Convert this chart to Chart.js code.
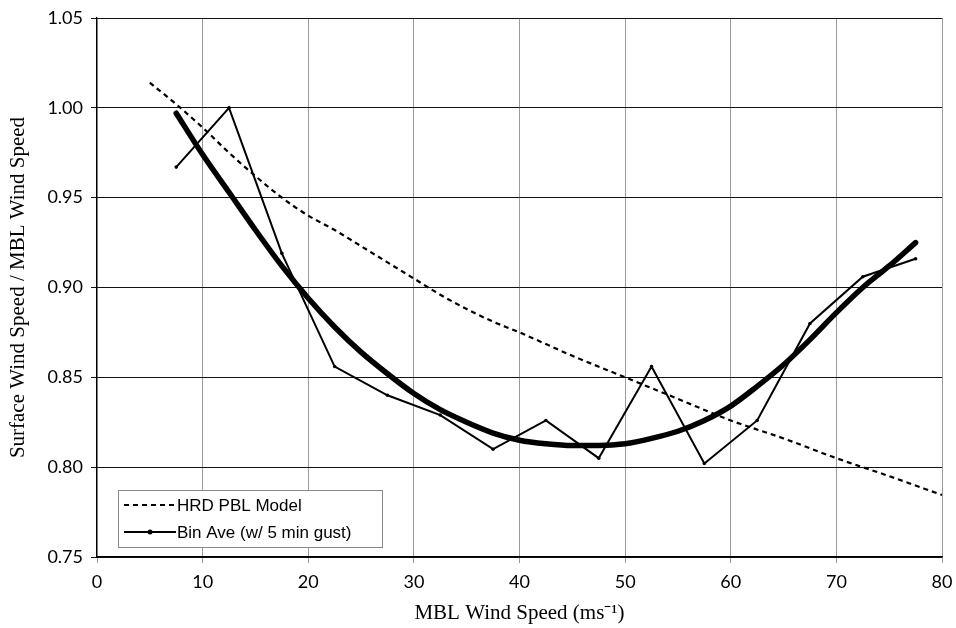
<!DOCTYPE html>
<html>
<head>
<meta charset="utf-8">
<script src="https://cdn.jsdelivr.net/npm/chart.js@4.4.1/dist/chart.umd.min.js"></script>
<style>
  html, body { margin: 0; padding: 0; background: #fff; }
  #wrap { width: 956px; height: 628px; }
</style>
</head>
<body>
<div id="wrap"><canvas id="windChart" width="956" height="628"></canvas></div>
<script>
// Dados
const binX = [7.5, 12.5, 17.5, 22.5, 27.5, 32.5, 37.5, 42.5, 47.5, 52.5, 57.5, 62.5, 67.5, 72.5, 77.5];
const binY = [0.967, 1.000, 0.919, 0.856, 0.840, 0.829, 0.810, 0.826, 0.805, 0.856, 0.802, 0.826, 0.880, 0.906, 0.916];

const fitX = [7.5, 10, 12.5, 15, 17.5, 20, 22.5, 25, 27.5, 30, 32.5, 35, 37.5, 40, 42.5, 45, 47.5, 50, 52.5, 55, 57.5, 60, 62.5, 65, 67.5, 70, 72.5, 75, 77.5];
const fitY = [0.997, 0.974, 0.953, 0.932, 0.912, 0.894, 0.878, 0.864, 0.852, 0.841, 0.832, 0.825, 0.819, 0.815, 0.813, 0.812, 0.812, 0.813, 0.816, 0.820, 0.826, 0.834, 0.845, 0.857, 0.871, 0.886, 0.900, 0.912, 0.925];

const pblX = [5, 7.5, 10, 12.5, 15, 17.5, 20, 22.5, 25, 27.5, 30, 32.5, 35, 37.5, 40, 45, 50, 55, 60, 65, 70, 75, 80];
const pblY = [1.014, 1.002, 0.989, 0.975, 0.962, 0.950, 0.940, 0.932, 0.923, 0.914, 0.905, 0.896, 0.888, 0.881, 0.875, 0.862, 0.850, 0.838, 0.826, 0.816, 0.805, 0.795, 0.7845];

const xTicks = [0, 10, 20, 30, 40, 50, 60, 70, 80];
const yTicks = [0.75, 0.80, 0.85, 0.90, 0.95, 1.00, 1.05];

const toPoints = (xs, ys) => xs.map((x, i) => ({ x: x, y: ys[i] }));

// Legenda desenhada dentro da área do gráfico
const insideLegend = {
    id: 'insideLegend',
    afterDraw(chart) {
        const c = chart.ctx;
        const area = chart.chartArea;
        const left = area.left + 21, top = area.bottom - 67, w = 264, h = 57;
        c.save();
        c.fillStyle = '#fff';
        c.fillRect(left, top, w, h);
        c.strokeStyle = '#888';
        c.lineWidth = 1;
        c.strokeRect(left + 0.5, top + 0.5, w, h);
        c.font = '17px "Liberation Sans", Arial, sans-serif';
        c.textBaseline = 'middle';
        c.fillStyle = '#000';
        const rows = [chart.data.datasets[0], chart.data.datasets[1]];
        rows.forEach((ds, i) => {
            const y = top + 15 + i * 27;
            c.strokeStyle = '#000';
            c.lineWidth = 2;
            c.setLineDash(ds.borderDash || []);
            c.beginPath();
            c.moveTo(left + 6, y);
            c.lineTo(left + 58, y);
            c.stroke();
            c.setLineDash([]);
            if (ds.pointRadius) {
                c.beginPath();
                c.arc(left + 32, y, 2.5, 0, Math.PI * 2);
                c.fill();
            }
            c.fillText(ds.label, left + 59, y + 1);
        });
        c.restore();
    }
};

document.addEventListener('DOMContentLoaded', function() {
    const ctx = document.getElementById('windChart');
    new Chart(ctx, {
        type: 'scatter',
        data: {
            datasets: [{
                label: 'HRD PBL Model',
                data: toPoints(pblX, pblY),
                showLine: true,
                borderColor: '#000',
                borderWidth: 2.2,
                borderDash: [5, 4],
                pointRadius: 0,
                cubicInterpolationMode: 'monotone'
            }, {
                label: 'Bin Ave (w/ 5 min gust)',
                data: toPoints(binX, binY),
                showLine: true,
                borderColor: '#000',
                backgroundColor: '#000',
                borderWidth: 2,
                pointRadius: 1.8,
                pointBorderWidth: 0,
                tension: 0
            }, {
                label: 'Fit',
                data: toPoints(fitX, fitY),
                showLine: true,
                borderColor: '#000',
                borderWidth: 5.5,
                borderCapStyle: 'round',
                pointRadius: 0,
                cubicInterpolationMode: 'monotone'
            }]
        },
        options: {
            responsive: false,
            animation: false,
            events: [],
            layout: { padding: { top: 18, right: 14, left: 0, bottom: 0 } },
            plugins: { legend: { display: false }, tooltip: { enabled: false } },
            scales: {
                x: {
                    type: 'linear',
                    min: 0, max: 80,
                    afterBuildTicks: (s) => { s.ticks = xTicks.map(v => ({ value: v })); },
                    afterFit: (s) => { s.height = 71; s.paddingLeft = 0; s.paddingRight = 0; },
                    grid: { color: '#9a9a9a', lineWidth: 1, tickLength: 6 },
                    border: { color: '#000', width: 1.2 },
                    ticks: {
                        color: '#000', padding: 8,
                        font: { family: 'Lato, "Open Sans", sans-serif', size: 18 },
                        callback: (v) => String(v)
                    },
                    title: {
                        display: true, text: 'MBL Wind Speed (ms\u207B\u00B9)', color: '#000',
                        font: { family: '"Liberation Serif", "Times New Roman", serif', size: 21 },
                        padding: { top: 0, bottom: 2 }
                    }
                },
                y: {
                    min: 0.75, max: 1.05,
                    afterBuildTicks: (s) => { s.ticks = yTicks.map(v => ({ value: v })); },
                    afterFit: (s) => { s.width = 97; s.paddingTop = 0; s.paddingBottom = 0; },
                    grid: { color: '#111', lineWidth: 1, tickLength: 6 },
                    border: { color: '#000', width: 1.2 },
                    ticks: {
                        color: '#000', padding: 8,
                        font: { family: 'Lato, "Open Sans", sans-serif', size: 18 },
                        callback: (v) => v.toFixed(2)
                    },
                    title: {
                        display: true, text: 'Surface Wind Speed / MBL Wind Speed', color: '#000',
                        font: { family: '"Liberation Serif", "Times New Roman", serif', size: 21 },
                        padding: { top: 6, bottom: 0 }
                    }
                }
            }
        },
        plugins: [insideLegend]
    });
});
</script>
</body>
</html>
